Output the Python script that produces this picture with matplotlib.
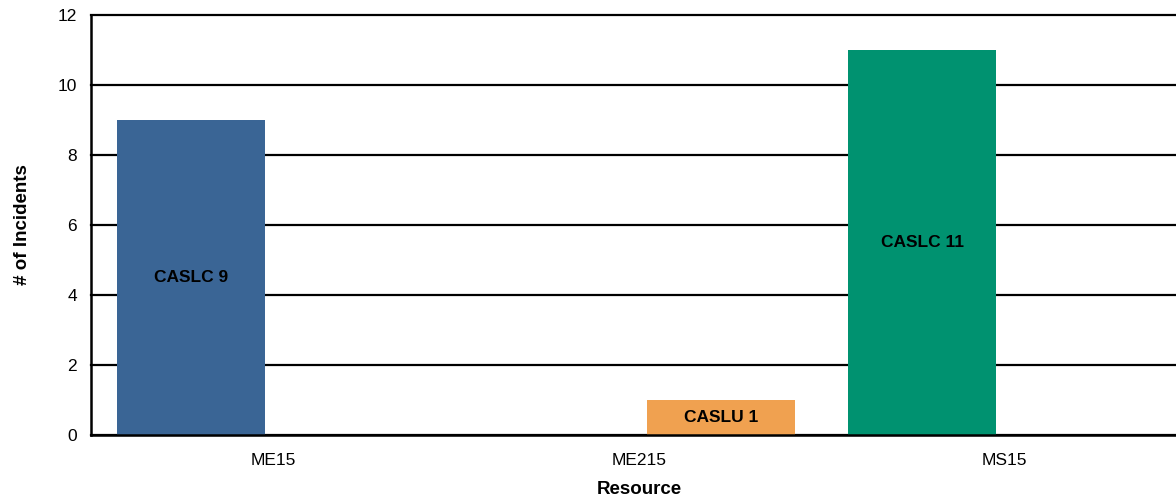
import matplotlib
matplotlib.use("Agg")
import matplotlib.pyplot as plt
import numpy as np

plt.rcParams['font.family'] = ['Liberation Sans', 'DejaVu Sans']

resources = ["ME15", "ME215", "MS15"]
series = ["CASLC", "CASLU"]
caslc = [9, 0, 11]
caslu = [0, 1, 0]
cat_colors = ["#3A6595", "#F0A150", "#009270"]

fig = plt.figure(figsize=(11.76, 5.0), dpi=100)
ax = fig.add_axes([91/1176, 65/500, 1096/1176, 420/500])

x = np.arange(len(resources))
w = 0.405
off = 0.225
for vals, name, sign in [(caslc, "CASLC", -1), (caslu, "CASLU", 1)]:
    for i, v in enumerate(vals):
        if v == 0:
            continue
        ax.bar(x[i] + sign*off, v, width=w, color=cat_colors[i], zorder=3)
        ax.text(x[i] + sign*off, v/2, "%s %d" % (name, v), ha='center', va='center',
                fontsize=12.5, fontweight='bold', color='black', zorder=4)

ax.set_xlim(-0.5, 2.5)
ax.set_ylim(0, 12)
ax.set_yticks(range(0, 13, 2))
ax.set_xticks(x)
ax.set_xticklabels(resources)
ax.tick_params(axis='both', length=0, labelsize=12.5)
ax.tick_params(axis='y', pad=10)
ax.tick_params(axis='x', pad=13)
ax.yaxis.grid(True, color='black', linewidth=1.6, zorder=1)
for gl in ax.yaxis.get_gridlines():
    gl.set_clip_on(False)
ax.set_axisbelow(True)
for s in ['top', 'right']:
    ax.spines[s].set_visible(False)
ax.spines['left'].set_linewidth(1.8)
ax.spines['bottom'].set_linewidth(1.8)
ax.spines['left'].set_zorder(5)
ax.spines['bottom'].set_zorder(5)

ax.set_xlabel("Resource", fontsize=13.5, fontweight='bold', labelpad=9)
ax.set_ylabel("# of Incidents", fontsize=13.5, fontweight='bold', labelpad=19)

fig.savefig("out.png", dpi=100)
